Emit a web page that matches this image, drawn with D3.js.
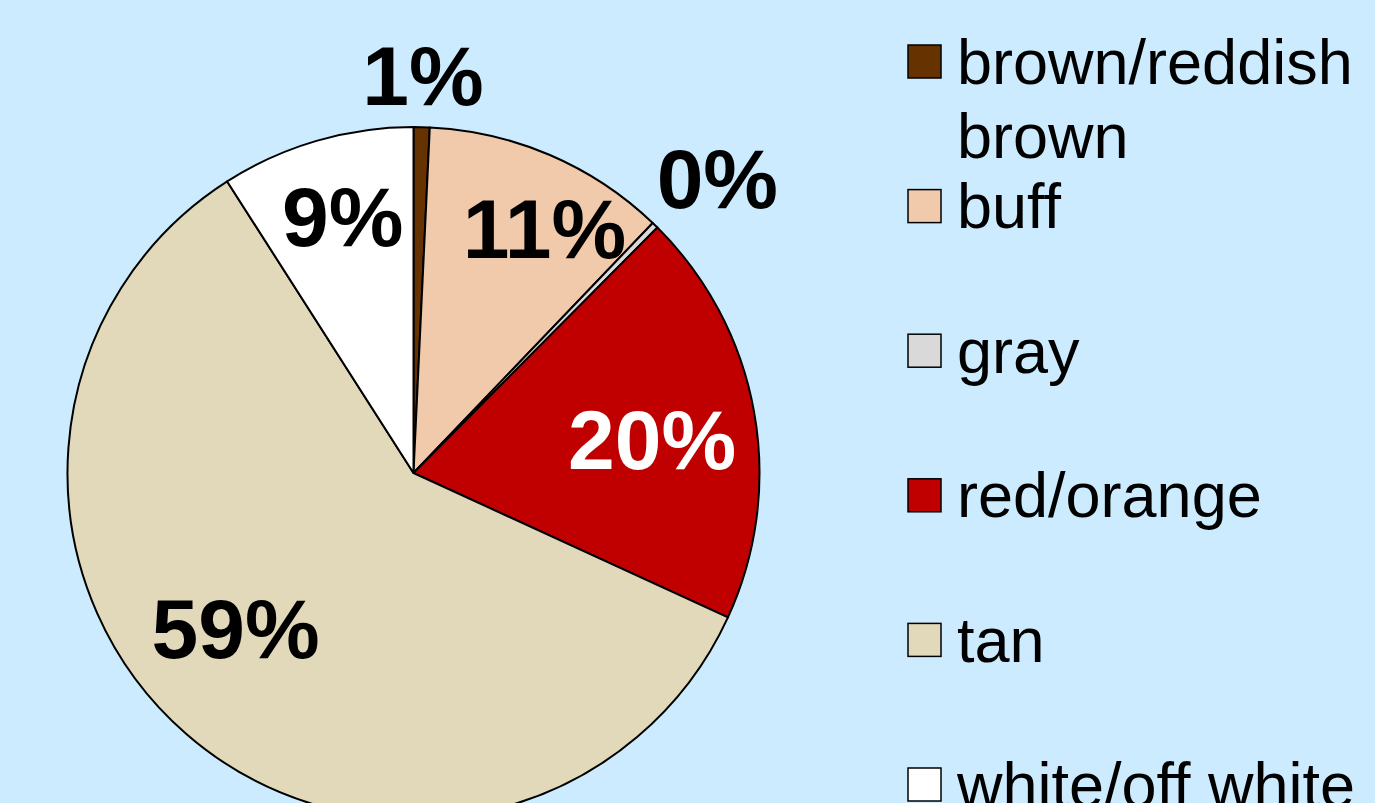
<!DOCTYPE html>
<html>
<head>
<meta charset="utf-8">
<script src="https://cdn.jsdelivr.net/npm/d3@7"></script>
<style>
  html, body { margin: 0; padding: 0; background: #CCEBFF; overflow: hidden; }
  svg { display: block; }
  text { font-family: "Liberation Sans", Arial, sans-serif; }
</style>
</head>
<body>
<svg id="chart" width="1375" height="803"></svg>
<script>
// Colour categories and their shares (percent)
const categories = ["brown/reddish brown", "buff", "gray", "red/orange", "tan", "white/off white"];
const legendLines = [["brown/reddish", "brown"], ["buff"], ["gray"], ["red/orange"], ["tan"], ["white/off white"]];
const shares = [0.75, 11.4, 0.3, 19.4, 59.1, 9.05];
const percentLabels = ["1%", "11%", "0%", "20%", "59%", "9%"];
const sliceColors = ["#663300", "#F1C9AB", "#D9D9D9", "#C00000", "#E2D9BA", "#FFFFFF"];
const labelColors = ["#000", "#000", "#000", "#fff", "#000", "#000"];

// Label placement: angle shift from slice middle (deg) and distance from centre (px)
const labelAngleShift = [0, 4.9, 1.5, 2.1, 7.9, 0.9];
const labelRadius = [398, 278, 424, 241, 236, 267];

const svg = d3.select("#chart");
const cx = 413.5, cy = 473, R = 346;

const pie = d3.pie().sort(null).value(d => d);
const arcs = pie(shares);
const arc = d3.arc().innerRadius(0).outerRadius(R);

const g = svg.append("g").attr("transform", `translate(${cx},${cy})`);

g.selectAll("path.slice")
  .data(arcs)
  .join("path")
  .attr("class", "slice")
  .attr("d", arc)
  .attr("fill", (d, i) => sliceColors[i])
  .attr("stroke", "#000")
  .attr("stroke-width", 2)
  .attr("stroke-linejoin", "round");

const labelSize = 84;
g.selectAll("text.pct")
  .data(arcs)
  .join("text")
  .attr("class", "pct")
  .attr("text-anchor", "middle")
  .attr("font-size", labelSize)
  .attr("font-weight", "bold")
  .attr("fill", (d, i) => labelColors[i])
  .attr("x", (d, i) => {
    const a = (d.startAngle + d.endAngle) / 2 + labelAngleShift[i] * Math.PI / 180;
    return Math.sin(a) * labelRadius[i];
  })
  .attr("y", (d, i) => {
    const a = (d.startAngle + d.endAngle) / 2 + labelAngleShift[i] * Math.PI / 180;
    return -Math.cos(a) * labelRadius[i] + labelSize * 0.36;
  })
  .text((d, i) => percentLabels[i]);

// Legend
const legendX = 908, legendTop = 45, rowPitch = 144.6, box = 33, legendSize = 63, lineGap = 74;
const legend = svg.append("g");
const rows = legend.selectAll("g.row")
  .data(categories)
  .join("g")
  .attr("class", "row")
  .attr("transform", (d, i) => `translate(${legendX},${legendTop + i * rowPitch})`);

rows.append("rect")
  .attr("width", box)
  .attr("height", box)
  .attr("fill", (d, i) => sliceColors[i])
  .attr("stroke", "#000")
  .attr("stroke-width", 1.5);

rows.each(function (d, i) {
  const t = d3.select(this).append("text")
    .attr("font-size", legendSize)
    .attr("fill", "#000");
  legendLines[i].forEach((line, j) => {
    t.append("tspan")
      .attr("x", 49)
      .attr("y", box / 2 + 22 + j * lineGap)
      .text(line);
  });
});
</script>
</body>
</html>
